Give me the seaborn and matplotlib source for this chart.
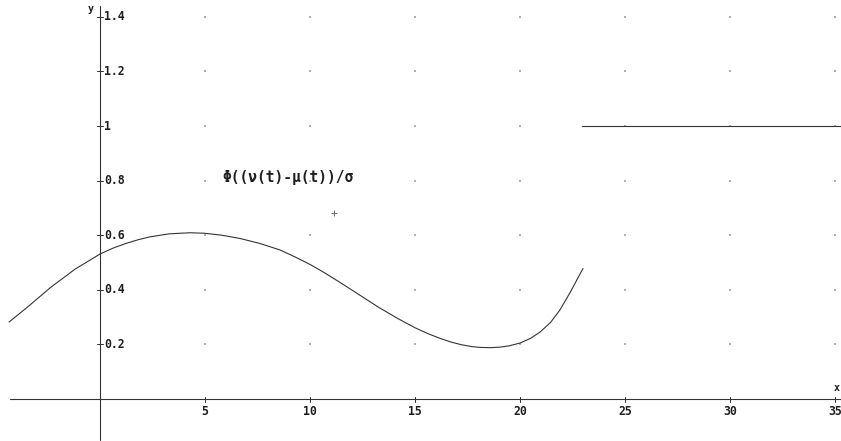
import matplotlib
matplotlib.use("Agg")
import matplotlib.pyplot as plt
import seaborn as sns
import pandas as pd

# ---- data ----
curve_x = [-4.33, -3.4, -2.38, -1.2, 0.0, 0.6, 1.2, 1.8, 2.38, 3.3, 4.29, 5.0, 5.8,
           6.67, 7.6, 8.57, 9.3, 10.0, 10.7, 11.43, 12.38, 13.33, 14.2, 15.0, 15.6,
           16.19, 16.7, 17.2, 17.7, 18.1, 18.6, 19.05, 19.5, 20.0, 20.5, 20.95, 21.45,
           21.9, 22.4, 22.86, 23.0]
curve_y = [0.282, 0.34, 0.407, 0.475, 0.531, 0.552, 0.569, 0.583, 0.594, 0.605, 0.609,
           0.607, 0.600, 0.588, 0.570, 0.546, 0.520, 0.493, 0.462, 0.427, 0.380, 0.333,
           0.294, 0.261, 0.240, 0.222, 0.209, 0.199, 0.192, 0.189, 0.188, 0.190, 0.195,
           0.205, 0.222, 0.245, 0.280, 0.326, 0.392, 0.458, 0.478]
step_x = [22.95, 35.4]
step_y = [1.0, 1.0]
x_ticks = [5, 10, 15, 20, 25, 30, 35]
y_ticks = [0.2, 0.4, 0.6, 0.8, 1.0, 1.2, 1.4]
y_tick_labels = ["0.2", "0.4", "0.6", "0.8", "1", "1.2", "1.4"]
label_text = "Φ((ν(t)-μ(t))/σ"
label_pos = (5.85, 0.812)
cross_pos = (11.14, 0.681)

DPI = 72
fig = plt.figure(figsize=(841 / DPI, 441 / DPI), dpi=DPI)
sns.set_style("white")
plt.rcParams["font.family"] = ["DejaVu Sans Mono", "DejaVu Sans"]
ax = fig.add_axes([0, 0, 1, 1])
ax.set_xlim(-100 / 21, 741 / 21)
ax.set_ylim(-42 / 273, 399 / 273)
for s in ax.spines.values():
    s.set_visible(False)
ax.set_xticks([])
ax.set_yticks([])

ink = "#333333"
txt = "#1e1e1e"

# dot grid
gx = [x for x in x_ticks for _ in y_ticks]
gy = [y for _ in x_ticks for y in y_ticks]
sns.scatterplot(x=gx, y=gy, ax=ax, s=1.2, color="#b0b0b0", marker="s", linewidth=0)

# axes
ax.plot([-4.3, 35.4], [0, 0], color=ink, lw=1.1)
ax.plot([0, 0], [-0.15, 1.44], color=ink, lw=1.1)
for x in x_ticks:
    ax.plot([x, x], [-2.5 / 273, 2.5 / 273], color=ink, lw=1)
    ax.annotate(str(x), xy=(x, 0), xytext=(0, -6), textcoords="offset points",
                ha="center", va="top", fontsize=11.5, fontweight="bold", color=txt)
for y, lab in zip(y_ticks, y_tick_labels):
    ax.plot([-3 / 21, 3 / 21], [y, y], color=ink, lw=1)
    ax.annotate(lab, xy=(0, y), xytext=(4, 0), textcoords="offset points",
                ha="left", va="center", fontsize=11.5, fontweight="bold", color=txt)

ax.annotate("y", xy=(0, 399 / 273), xytext=(-12, -9), textcoords="offset points",
            ha="left", va="center", fontsize=10, fontweight="bold", color=txt)
ax.annotate("x", xy=(741 / 21, 0), xytext=(-7, 11), textcoords="offset points",
            ha="left", va="center", fontsize=10, fontweight="bold", color=txt)

# curves
df1 = pd.DataFrame({"x": curve_x, "y": curve_y})
df2 = pd.DataFrame({"x": step_x, "y": step_y})
sns.lineplot(data=df1, x="x", y="y", ax=ax, color=ink, lw=1.1, sort=False)
sns.lineplot(data=df2, x="x", y="y", ax=ax, color=ink, lw=1.1, sort=False)
ax.set_xlabel("")
ax.set_ylabel("")

ax.text(label_pos[0], label_pos[1], label_text, fontsize=14.5, fontweight="bold",
        color=txt, ha="left", va="center")
ax.plot([cross_pos[0]], [cross_pos[1]], marker="+", ms=6, mew=0.8, color="#555555")

fig.savefig("out.png", dpi=DPI, facecolor="white")
